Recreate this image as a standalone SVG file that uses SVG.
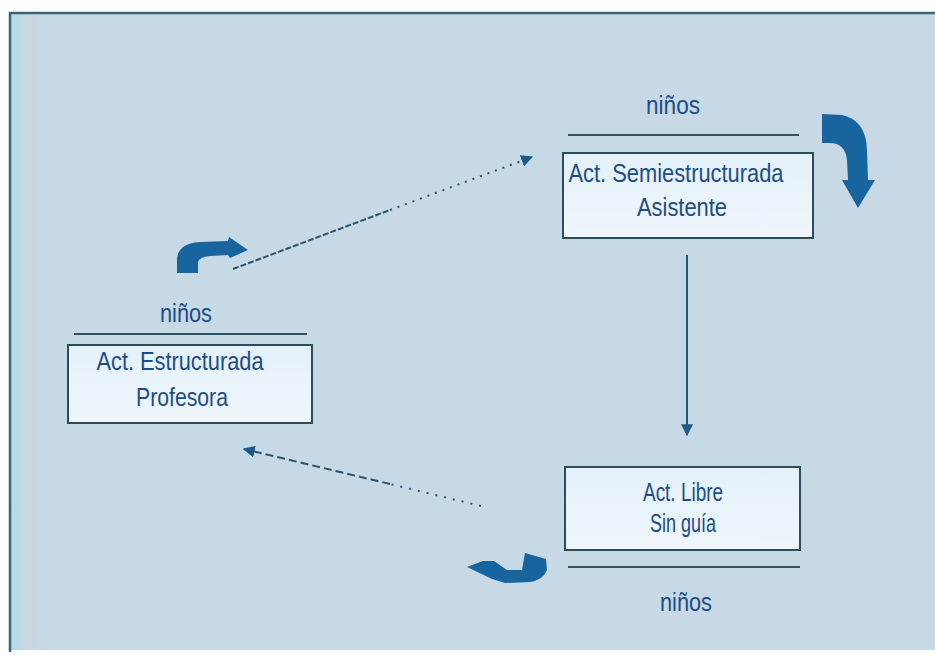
<svg xmlns="http://www.w3.org/2000/svg" width="935" height="658" viewBox="0 0 935 658">
<defs>
<linearGradient id="bg" gradientUnits="userSpaceOnUse" x1="9" y1="0" x2="45" y2="0">
<stop offset="0" stop-color="#a9dcec"/>
<stop offset="0.4" stop-color="#c4d9e6"/>
<stop offset="0.6" stop-color="#cbd6e2"/>
<stop offset="1" stop-color="#c7d9e5"/>
</linearGradient>
<linearGradient id="boxfill" x1="0" y1="0" x2="0" y2="1">
<stop offset="0" stop-color="#e4f1fa"/>
<stop offset="1" stop-color="#eef6fb"/>
</linearGradient>
<marker id="ah" viewBox="0 0 10 10" refX="9" refY="5" markerWidth="12" markerHeight="12" markerUnits="userSpaceOnUse" orient="auto">
<path d="M0,0 L10,5 L0,10 Z" fill="#1d5a86"/>
</marker>
<marker id="ahv" viewBox="0 0 10 10" refX="9" refY="5" markerWidth="14" markerHeight="12" markerUnits="userSpaceOnUse" orient="auto">
<path d="M0,0 L10,5 L0,10 Z" fill="#1d5a86"/>
</marker>
</defs>
<style>
.t{font-family:"Liberation Sans",Arial,sans-serif;font-size:26px;fill:#1e4c87;text-anchor:middle}
.box{fill:url(#boxfill);stroke:#2e4c5a;stroke-width:2}
.bar{stroke:#2e5262;stroke-width:2}
.blk{fill:#17649f}
.dash{stroke:#2a5570;stroke-width:2;fill:none}
</style>
<rect x="0" y="0" width="935" height="658" fill="#ffffff"/>
<rect x="9" y="12" width="926" height="638" fill="url(#bg)"/>
<path d="M10,652 L10,13 L935,13" fill="none" stroke="#3a6470" stroke-width="2.5"/>

<g id="connectors">
<line class="dash" x1="233" y1="269" x2="390" y2="210" stroke-dasharray="6,2"/>
<line class="dash" x1="390" y1="210" x2="532" y2="157" stroke-dasharray="2,6" marker-end="url(#ah)"/>
<line x1="687" y1="255" x2="687" y2="435" stroke="#2a5570" stroke-width="2" marker-end="url(#ahv)"/>
<line class="dash" x1="481" y1="506" x2="390" y2="484" stroke-dasharray="2,7"/>
<line class="dash" x1="390" y1="484" x2="244" y2="449" stroke-dasharray="8,4" marker-end="url(#ah)"/>
<path class="blk" d="M177,273 L177,258 Q179,243 200,242 L228,241 L229,237 L248,250 L230,258 L228,255 L210,256 Q199,257 198,262 L198,273 Z"/>
<path class="blk" d="M822,114 L842,115 Q866,120 867,150 L868,180 L875,180 L858,208 L842,180 L848,180 L847,160 Q845,143 830,143 L822,143 Z"/>
<path class="blk" d="M467,567 L483,561 L494,561 L507,570 L522,570 L525,553 L546,559 L547,570 Q543,580 530,582 L505,583 L492,579 Z"/>
</g>

<g id="node-estructurada">
<text class="t" x="186" y="322" textLength="52" lengthAdjust="spacingAndGlyphs">niños</text>
<line class="bar" x1="74" y1="334" x2="307" y2="334"/>
<rect class="box" x="68" y="345" width="244" height="78"/>
<text class="t" x="180" y="370" textLength="167" lengthAdjust="spacingAndGlyphs">Act. Estructurada</text>
<text class="t" x="182" y="406" textLength="92" lengthAdjust="spacingAndGlyphs">Profesora</text>
</g>

<g id="node-semiestructurada">
<text class="t" x="673" y="114" textLength="54" lengthAdjust="spacingAndGlyphs">niños</text>
<line class="bar" x1="568" y1="135" x2="799" y2="135"/>
<rect class="box" x="563" y="153" width="250" height="85"/>
<text class="t" x="676" y="182" textLength="215" lengthAdjust="spacingAndGlyphs">Act. Semiestructurada</text>
<text class="t" x="682" y="216" textLength="90" lengthAdjust="spacingAndGlyphs">Asistente</text>
</g>

<g id="node-libre">
<rect class="box" x="565" y="467" width="235" height="83"/>
<text class="t" x="683" y="501" textLength="80" lengthAdjust="spacingAndGlyphs">Act. Libre</text>
<text class="t" x="683" y="532" textLength="66" lengthAdjust="spacingAndGlyphs">Sin guía</text>
<line class="bar" x1="568" y1="567" x2="800" y2="567"/>
<text class="t" x="686" y="611" textLength="52" lengthAdjust="spacingAndGlyphs">niños</text>
</g>
</svg>
